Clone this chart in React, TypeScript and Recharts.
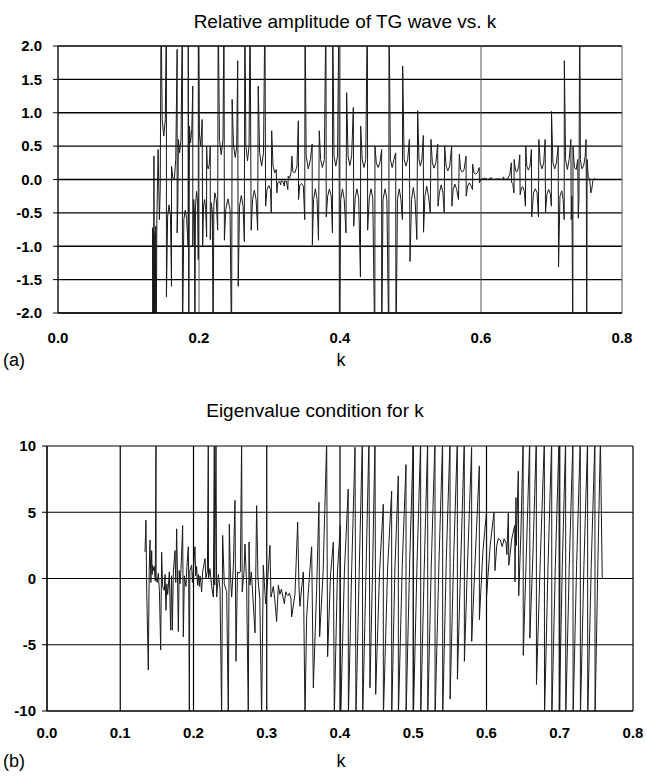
import React from 'react';
import { LineChart, Line, XAxis, YAxis, CartesianGrid } from 'recharts';

type P = [number, number];

// ---------- Panel (a): relative amplitude of TG wave vs k ----------
const ampStart: P[] = [
  [0.1340,-0.72],[0.1345,-2.6],[0.1350,-0.75],[0.1356,-2.6],[0.1361,0.35],[0.1366,-2.6],[0.1373,-0.8],[0.1379,-2.6],
  [0.1386,-0.7],[0.1393,-2.6],[0.1402,-0.62],[0.1420,0.45],[0.1438,-0.6],[0.1450,-0.15],[0.1462,2.6],
];
const ampEarly: P[] = [
  [0.1478,0.9],[0.1500,0.65],[0.1522,0.9],[0.1538,2.6],
  [0.1538,-1.76],[0.1555,-0.55],[0.1575,-0.38],[0.1595,-0.55],[0.1610,-1.6],
  [0.1610,0.2],[0.1630,0.02],[0.1650,0.0],[0.1670,0.3],[0.1690,1.95],
  [0.1690,-0.8],[0.1700,-0.35],[0.1708,0.6],[0.1725,0.40],[0.1745,0.6],[0.1765,2.6],
  [0.1765,-2.6],[0.1785,-0.6],[0.1805,-0.46],[0.1825,-0.6],[0.1845,-1.0],
  [0.1848,2.6],[0.1855,-2.6],[0.1865,0.8],[0.1880,0.55],[0.1898,0.75],[0.1912,1.4],
  [0.1912,-1.0],[0.1925,-0.3],[0.1935,-0.5],[0.1942,-2.6],
  [0.1950,-0.4],[0.1965,-0.18],[0.1980,-0.35],[0.1990,-1.2],
  [0.1990,2.6],[0.2005,0.7],[0.2025,0.5],[0.2045,0.9],[0.2052,-1.0],
  [0.2065,-0.4],[0.2080,-0.3],[0.2095,-0.45],[0.2108,-0.86],
  [0.2108,0.5],[0.2118,0.2],[0.2130,0.16],[0.2145,0.22],[0.2160,0.5],
  [0.2160,-0.9],[0.2175,-0.35],[0.2190,-0.5],[0.2200,-2.6],
  [0.2210,-0.4],[0.2225,-0.2],[0.2245,-0.3],[0.2265,-0.76],[0.2272,2.6],
];
const ampMid1: P[] = [
  [0.2290,0.6],[0.2315,0.37],[0.2340,0.6],[0.2355,2.6],
  [0.2360,-0.91],[0.2380,-0.45],[0.2410,-0.29],[0.2440,-0.45],[0.2462,-2.6],
  [0.2470,1.2],[0.2490,0.5],[0.2515,0.33],[0.2535,0.5],[0.2549,1.78],
  [0.2556,-1.6],[0.2575,-0.4],[0.2600,-0.24],[0.2625,-0.4],[0.2643,-0.93],
  [0.2650,2.6],[0.2665,0.5],[0.2688,0.28],[0.2710,0.5],[0.2724,2.6],
  [0.2740,-0.76],[0.2760,-0.3],[0.2785,-0.16],[0.2810,-0.3],[0.2832,-0.76],
  [0.2840,1.4],[0.2860,0.4],[0.2888,0.2],[0.2915,0.4],[0.2935,2.6],
  [0.2945,-0.4],[0.2965,-0.15],[0.2990,-0.09],[0.3015,-0.15],[0.3025,-0.5],
  [0.3031,0.73],[0.3050,0.2],[0.3075,0.1],[0.3095,0.15],
  [0.3105,-0.2],[0.3115,-0.05],[0.3140,-0.03],[0.3160,-0.08],[0.3165,-0.02],[0.3190,-0.03],[0.3210,-0.1],
  [0.3215,-0.02],[0.3240,-0.03],[0.3260,-0.15],[0.3265,0.05],[0.3285,0.02],[0.3305,0.1],[0.3318,0.35],
  [0.3330,0.12],[0.3360,0.1],[0.3390,0.2],[0.3409,0.88],
  [0.3412,-0.3],[0.3430,-0.08],[0.3455,-0.06],[0.3480,-0.1],[0.3500,-0.6],
  [0.3504,2.6],[0.3520,0.35],[0.3550,0.16],[0.3580,0.3],[0.3605,0.53],
  [0.3608,-0.98],
];
const ampMid2: P[] = [
  [0.3625,-0.3],[0.3650,-0.14],[0.3675,-0.3],[0.3695,-0.91],
  [0.3706,0.73],[0.3725,0.3],[0.3750,0.18],[0.3778,0.3],[0.3800,2.6],
  [0.3805,-0.56],[0.3825,-0.25],[0.3850,-0.14],[0.3875,-0.25],[0.3893,-0.8],
  [0.3896,2.6],[0.3915,0.35],[0.3940,0.2],[0.3965,0.35],[0.3985,2.6],
  [0.3992,-2.6],[0.4010,-0.3],[0.4035,-0.14],[0.4060,-0.3],[0.4085,-0.8],
  [0.4094,1.3],[0.4115,0.35],[0.4140,0.21],[0.4165,0.35],[0.4189,1.08],
  [0.4195,-0.7],[0.4215,-0.28],[0.4240,-0.14],[0.4265,-0.28],[0.4290,-1.46],
  [0.4293,0.8],[0.4315,0.3],[0.4340,0.18],[0.4365,0.3],[0.4388,2.6],
  [0.4392,-0.76],[0.4415,-0.28],[0.4440,-0.14],[0.4465,-0.28],[0.4494,-2.6],
  [0.4496,0.5],[0.4515,0.25],[0.4540,0.18],[0.4565,0.25],[0.4591,0.45],
  [0.4591,-2.6],[0.4610,-0.3],[0.4640,-0.14],[0.4665,-0.3],[0.4693,-2.6],
  [0.4695,2.6],[0.4715,0.3],[0.4740,0.18],[0.4765,0.3],[0.4790,0.4],
  [0.4794,-2.6],[0.4815,-0.3],[0.4840,-0.14],[0.4865,-0.3],[0.4885,-0.6],
  [0.4889,1.7],[0.4910,0.3],[0.4935,0.2],[0.4960,0.3],[0.4984,0.6],
];
const ampMid3: P[] = [
  [0.4993,-1.23],[0.5015,-0.3],[0.5040,-0.12],[0.5065,-0.3],[0.5090,-0.9],
  [0.5102,1.03],[0.5120,0.3],[0.5140,0.2],[0.5162,0.3],[0.5182,0.66],
  [0.5185,-0.79],[0.5205,-0.25],[0.5230,-0.1],[0.5255,-0.25],[0.5280,-0.49],
  [0.5291,0.6],[0.5310,0.25],[0.5335,0.17],[0.5360,0.25],[0.5386,0.53],
  [0.5390,-0.4],[0.5410,-0.2],[0.5435,-0.08],[0.5460,-0.2],[0.5478,-0.49],
  [0.5485,0.5],[0.5505,0.2],[0.5530,0.13],[0.5555,0.2],[0.5584,0.5],
  [0.5587,-0.4],[0.5605,-0.15],[0.5630,-0.07],[0.5655,-0.15],[0.5680,-0.3],
  [0.5693,0.38],[0.5710,0.15],[0.5735,0.11],[0.5760,0.15],[0.5788,0.35],
  [0.5790,-0.25],[0.5810,-0.1],[0.5835,-0.05],[0.5860,-0.1],[0.5880,-0.15],
  [0.5882,0.23],[0.5900,0.1],[0.5925,0.08],[0.5950,0.1],[0.5975,0.18],
  [0.5978,-0.05],[0.5995,0.0],
];
const ampEnd: P[] = [
  [0.6050,0.02],[0.6100,0.0],[0.6150,0.03],[0.6160,0.0],[0.6250,0.01],[0.6300,0.0],[0.6320,0.04],[0.6330,0.0],[0.6380,0.01],
  [0.6410,0.08],[0.6430,0.25],
  [0.6432,-0.04],[0.6450,-0.06],[0.6468,-0.2],
  [0.6470,0.3],[0.6490,0.13],[0.6515,0.12],[0.6535,0.2],[0.6550,0.37],
  [0.6555,-0.23],[0.6575,-0.12],[0.6595,-0.11],[0.6615,-0.18],[0.6630,-0.4],
  [0.6635,0.5],[0.6650,0.2],[0.6672,0.14],[0.6695,0.2],[0.6715,0.45],
  [0.6720,-0.56],[0.6745,-0.2],[0.6770,-0.14],[0.6795,-0.2],[0.6815,-0.56],
  [0.6820,0.6],[0.6840,0.25],[0.6865,0.16],[0.6890,0.25],[0.6910,0.6],
  [0.6915,-0.5],[0.6935,-0.22],[0.6960,-0.15],[0.6985,-0.22],[0.6998,-0.4],
  [0.7000,1.02],[0.7020,0.25],[0.7045,0.16],[0.7070,0.25],[0.7095,0.5],
  [0.7100,-1.31],[0.7120,-0.25],[0.7145,-0.17],[0.7165,-0.3],[0.7180,-0.6],
  [0.7182,1.78],[0.7200,0.3],[0.7225,0.15],[0.7250,0.3],[0.7275,0.6],
  [0.7280,-0.6],[0.7290,-0.25],[0.7302,-2.6],
  [0.7305,0.5],[0.7325,0.18],[0.7350,0.15],[0.7372,0.3],
  [0.7380,-0.58],[0.7390,-0.25],[0.7400,2.6],
  [0.7410,0.3],[0.7430,0.16],[0.7455,0.2],[0.7478,0.35],[0.7490,0.6],
  [0.7495,-0.3],[0.7500,-2.6],[0.7505,0.3],[0.7520,0.05],[0.7540,0.0],[0.7550,-0.1],[0.7558,-0.2],[0.7570,-0.15],
  [0.7590,0.0],[0.7620,0.02],
];

// ---------- Panel (b): eigenvalue condition for k ----------
const eigStart: P[] = [
  [0.1338,2.0],[0.1351,4.4],[0.1360,-0.5],[0.1383,-6.9],[0.1395,0.5],[0.1406,2.9],[0.1418,-0.3],[0.1429,2.1],
  [0.1436,0.3],[0.1442,1.0],[0.1452,0.6],[0.1465,0.9],[0.1478,-0.2],[0.1488,10.5],[0.1490,0.0],[0.1505,-0.3],
  [0.1520,0.4],[0.1535,-1.0],[0.1552,-5.4],[0.1565,2.0],[0.1578,-0.5],[0.1588,-0.8],[0.1602,-0.9],[0.1612,0.3],
  [0.1624,-2.4],[0.1636,-0.4],[0.1647,-1.2],[0.1658,-0.5],[0.1670,0.5],[0.1688,-3.9],[0.1700,0.2],[0.1711,-3.9],
  [0.1725,0.5],[0.1747,2.1],[0.1758,-0.3],[0.1770,3.75],[0.1782,0.0],[0.1793,-4.0],[0.1805,0.6],[0.1816,-0.4],
  [0.1830,0.8],[0.1852,4.0],[0.1861,-4.4],[0.1875,0.2],[0.1897,-0.6],[0.1910,0.9],[0.1929,2.4],[0.1935,-0.4],
  [0.1943,-10.5],[0.1950,0.6],[0.1975,1.0],[0.1985,-0.3],[0.2000,0.8],[0.2020,2.4],[0.2030,0.2],[0.2043,0.9],
  [0.2055,-0.5],[0.2066,0.3],[0.2078,-0.6],[0.2089,0.2],[0.2100,-0.3],[0.2111,-1.0],[0.2125,0.5],[0.2157,1.5],
  [0.2170,0.0],[0.2190,0.6],[0.2202,10.5],[0.2205,0.0],[0.2225,0.75],[0.2248,-0.6],[0.2271,-1.4],[0.2284,10.5],
  [0.2290,-0.5],[0.2307,10.5],[0.2316,-1.4],[0.2340,0.3],[0.2362,-0.8],[0.2384,-10.5],[0.2398,3.25],[0.2420,-0.4],
  [0.2453,-1.0],[0.2475,-10.5],[0.2489,4.1],[0.2505,0.1],[0.2521,-1.4],[0.2545,1.0],[0.2566,5.9],[0.2580,-6.25],
  [0.2600,0.5],[0.2612,0.4],[0.2640,0.5],[0.2657,10.5],[0.2665,-1.0],[0.2690,0.5],[0.2703,2.6],[0.2726,-0.6],
  [0.2748,-10.5],[0.2758,2.75],[0.2770,-0.5],[0.2790,0.5],[0.2840,-4.1],[0.2862,5.5],[0.2880,0.0],[0.2905,-1.5],
  [0.2930,-10.5],[0.2953,1.0],[0.2985,-1.9],[0.3000,-1.1],[0.3044,2.5],[0.3058,-1.4],[0.3090,-0.6],[0.3110,-1.6],
  [0.3135,-3.25],[0.3158,-0.5],[0.3180,-1.2],[0.3200,-0.8],[0.3240,-1.9],[0.3260,-1.0],[0.3275,-1.2],[0.3290,-1.3],
  [0.3310,-1.1],[0.3330,-1.5],[0.3340,-2.9],
];
const eigMid: P[] = [
  [0.3385,-1.2],[0.3422,4.25],[0.3440,-0.6],[0.3453,-2.1],[0.3480,-0.5],[0.3500,0.5],[0.3522,-10.5],[0.3545,-2.9],
  [0.3580,0.0],[0.3613,2.4],[0.3636,-8.25],[0.3680,-1.0],[0.3713,5.75],[0.3722,-4.4],[0.3770,0.5],[0.3818,10.5],
  [0.3831,-5.9],[0.3870,0.2],[0.3909,2.75],[0.3922,-10.5],[0.3965,0.5],[0.4005,4.0],[0.4009,-10.5],[0.4060,0.5],
  [0.4112,6.75],[0.4114,-10.5],[0.4160,0.8],[0.4205,9.9],[0.4218,-10.5],[0.4262,0.5],[0.4305,10.5],[0.4310,-10.5],
  [0.4355,0.5],[0.4395,10.5],[0.4409,-8.25],[0.4445,0.8],[0.4478,10.5],[0.4487,-8.75],[0.4540,0.5],[0.4591,5.6],
  [0.4592,-10.5],[0.4650,0.8],[0.4705,6.6],[0.4706,-10.5],[0.4750,0.8],[0.4796,7.75],[0.4797,-10.5],[0.4850,1.0],
  [0.4901,8.6],[0.4902,-10.5],[0.4950,1.0],[0.5001,10.5],[0.5002,-10.5],[0.5050,0.8],[0.5101,10.5],[0.5102,-10.5],
  [0.5150,0.8],[0.5197,10.5],[0.5198,-10.5],[0.5245,0.8],[0.5297,10.5],[0.5298,-10.5],[0.5350,1.0],[0.5401,10.5],
  [0.5402,-10.5],[0.5450,1.2],[0.5502,10.5],[0.5503,-9.1],[0.5550,1.2],[0.5602,10.5],[0.5603,-7.6],[0.5650,1.5],
  [0.5697,10.5],[0.5698,-6.25],[0.5745,1.8],[0.5797,9.9],[0.5798,-4.75],[0.5850,2.0],[0.5902,8.5],[0.5903,-3.1],
  [0.5950,2.0],[0.6000,5.0],[0.6002,-1.25],
];
const eigLate: P[] = [
  [0.6050,2.5],[0.6102,5.0],[0.6116,0.6],[0.6140,2.5],[0.6160,3.0],[0.6190,2.9],[0.6215,2.4],[0.6240,3.0],
  [0.6266,2.7],[0.6278,1.8],[0.6298,5.0],[0.6305,1.0],[0.6345,3.0],[0.6385,4.0],[0.6389,-0.25],[0.6402,6.1],
  [0.6408,2.5],[0.6434,8.1],[0.6440,-1.3],[0.6470,3.5],[0.6500,10.5],[0.6502,-5.8],[0.6545,2.0],[0.6590,10.5],
  [0.6592,-4.5],[0.6635,2.0],[0.6680,10.5],[0.6682,-8.0],[0.6735,1.5],[0.6790,10.5],[0.6792,-10.5],[0.6840,1.0],
  [0.6890,10.5],[0.6892,-10.5],[0.6940,1.0],[0.6990,10.5],[0.6992,-10.5],[0.7035,1.0],[0.7080,10.5],[0.7082,-10.5],
  [0.7130,1.0],[0.7180,10.5],[0.7182,-10.5],[0.7230,1.0],[0.7280,10.5],[0.7282,-10.5],[0.7330,1.0],[0.7380,10.5],
  [0.7382,-10.5],[0.7430,1.0],[0.7480,10.5],[0.7482,-10.5],[0.7520,1.0],[0.7555,10.5],[0.7580,0.0],
];

// ---------- Axis ticks ----------
const ampXTicks = [0, 0.2, 0.4, 0.6, 0.8];
const ampYTicks = [-2, -1.5, -1, -0.5, 0, 0.5, 1, 1.5, 2];
const eigXTicks = [0, 0.1, 0.2, 0.3, 0.4, 0.5, 0.6, 0.7, 0.8];
const eigYTicks = [-10, -5, 0, 5, 10];

const toRows = (...parts: P[][]) => parts.flat().map(([k, v]) => ({ k, v }));
const ampRows = toRows(ampStart, ampEarly, ampMid1, ampMid2, ampMid3, ampEnd);
const eigRows = toRows(eigStart, eigMid, eigLate);

const FONT = '"Liberation Sans", Arial, Helvetica, sans-serif';
const tickStyle = { fill: '#000', fontSize: 15, fontWeight: 'bold' as const, fontFamily: FONT };

const abs = (left: number, top: number, extra: React.CSSProperties = {}): React.CSSProperties => ({
  position: 'absolute', left, top, fontFamily: FONT, color: '#000', whiteSpace: 'nowrap', lineHeight: 1.15, ...extra,
});

export default function App() {
  return (
    <div style={{ position: 'absolute', left: 0, top: 0, width: 647, height: 778, background: '#fff', overflow: 'hidden' }}>
      <div style={abs(145, 11, { width: 400, textAlign: 'center', fontSize: 19 })}>Relative amplitude of TG wave vs. k</div>
      <div style={{ position: 'absolute', left: 0, top: 0 }}>
        <LineChart width={647} height={390} data={ampRows} margin={{ top: 46, right: 25, bottom: 47, left: 8 }}>
          <CartesianGrid vertical={false} stroke="#000" strokeWidth={1.3} />
          <CartesianGrid horizontal={false} stroke="#555" strokeWidth={1} />
          <XAxis type="number" dataKey="k" domain={[0, 0.8]} ticks={ampXTicks} interval={0} allowDataOverflow
            tickFormatter={(v: number) => v.toFixed(1)} tick={tickStyle} tickLine={false}
            axisLine={{ stroke: '#000' }} tickSize={6} tickMargin={13} height={30} />
          <YAxis type="number" domain={[-2, 2]} ticks={ampYTicks} interval={0} allowDataOverflow width={50}
            tickFormatter={(v: number) => v.toFixed(1)} tick={tickStyle} tickLine={{ stroke: '#000' }}
            axisLine={{ stroke: '#000' }} tickSize={5} tickMargin={11} />
          <Line type="linear" dataKey="v" stroke="#1a1a1a" strokeWidth={1} dot={false} activeDot={false}
            isAnimationActive={false} />
        </LineChart>
      </div>
      <div style={abs(3, 350, { fontSize: 18 })}>(a)</div>
      <div style={abs(331, 350, { width: 20, textAlign: 'center', fontSize: 18 })}>k</div>

      <div style={abs(115, 400, { width: 400, textAlign: 'center', fontSize: 19 })}>Eigenvalue condition for k</div>
      <div style={{ position: 'absolute', left: 0, top: 400 }}>
        <LineChart width={647} height={390} data={eigRows} margin={{ top: 46, right: 14, bottom: 49, left: 7 }}>
          <CartesianGrid stroke="#000" strokeWidth={1.2} />
          <XAxis type="number" dataKey="k" domain={[0, 0.8]} ticks={eigXTicks} interval={0} allowDataOverflow
            tickFormatter={(v: number) => v.toFixed(1)} tick={tickStyle} tickLine={false}
            axisLine={{ stroke: '#000' }} tickSize={6} tickMargin={10} height={30} />
          <YAxis type="number" domain={[-10, 10]} ticks={eigYTicks} interval={0} allowDataOverflow width={40}
            tick={tickStyle} tickLine={{ stroke: '#000' }} axisLine={{ stroke: '#000' }} tickSize={5} tickMargin={6} />
          <Line type="linear" dataKey="v" stroke="#1a1a1a" strokeWidth={1} dot={false} activeDot={false}
            isAnimationActive={false} />
        </LineChart>
      </div>
      <div style={abs(3, 751, { fontSize: 18 })}>(b)</div>
      <div style={abs(331, 751, { width: 20, textAlign: 'center', fontSize: 18 })}>k</div>
    </div>
  );
}
